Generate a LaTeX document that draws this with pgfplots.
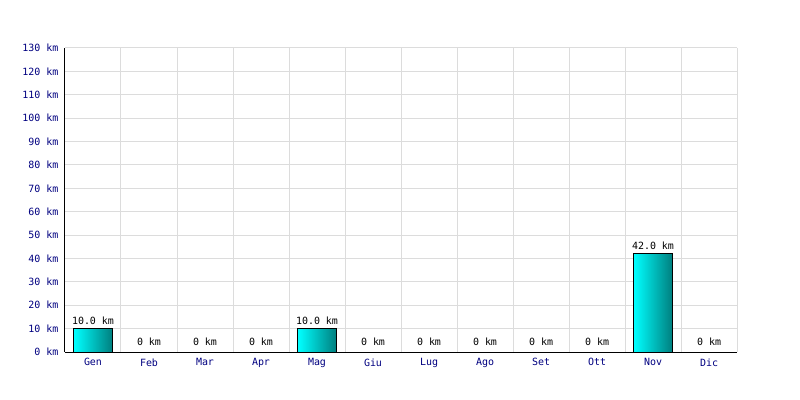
\documentclass[border=0pt]{standalone}
\usepackage{pgfplots}
\pgfplotsset{compat=1.18}
\usepackage{fontspec}
\setmainfont{DejaVu Sans Mono}
\definecolor{navyc}{RGB}{0,0,128}
\definecolor{gridc}{RGB}{220,220,220}
\definecolor{tealc}{RGB}{0,128,128}
\definecolor{cyanc}{RGB}{0,255,255}
\pgfplotstableread[col sep=comma]{
x,y,label
0,10,10.0 km
}\tabgen
\pgfplotstableread[col sep=comma]{
x,y,label
4,10,10.0 km
}\tabmag
\pgfplotstableread[col sep=comma]{
x,y,label
10,42,42.0 km
}\tabnov
\pgfplotstableread[col sep=comma]{
x,y,label
1,0,0 km
2,0,0 km
3,0,0 km
5,0,0 km
6,0,0 km
7,0,0 km
8,0,0 km
9,0,0 km
11,0,0 km
}\tabzeros
\begin{document}
\begin{tikzpicture}
\useasboundingbox (-65bp,-48bp) rectangle (735bp,352bp);
\begin{axis}[
  at={(0,0)}, anchor=south west, scale only axis,
  width=672bp, height=304bp,
  xmin=-0.5, xmax=11.5, ymin=0, ymax=130,
  axis lines*=left,
  axis line style={black, line width=1bp},
  xtick={0,...,11},
  xticklabels={Gen,Feb,Mar,Apr,Mag,Giu,Lug,Ago,Set,Ott,Nov,Dic},
  minor xtick={-0.5,0.5,1.5,2.5,3.5,4.5,5.5,6.5,7.5,8.5,9.5,10.5,11.5},
  ytick={0,10,...,130},
  yticklabels={0 km,10 km,20 km,30 km,40 km,50 km,60 km,70 km,80 km,90 km,100 km,110 km,120 km,130 km},
  xminorgrids, ymajorgrids,
  major grid style={gridc, line width=1bp},
  minor grid style={gridc, line width=1bp},
  major tick length=0pt, minor tick length=0pt,
  tick label style={font=\fontsize{10}{12}\selectfont, text=navyc},
  yticklabel style={xshift=-3bp},
  xticklabel style={yshift=-3bp},
  every node near coord/.style={font=\fontsize{10}{12}\selectfont, text=black},
  clip=false,
  barstyle/.style={ybar, bar width=0.68, bar shift=0pt, draw=black, line width=1bp,
    left color=cyanc, right color=tealc,
    nodes near coords, point meta=explicit symbolic},
]
\addplot[barstyle] table[x=x, y=y, meta=label] {\tabgen};
\addplot[barstyle] table[x=x, y=y, meta=label] {\tabmag};
\addplot[barstyle] table[x=x, y=y, meta=label] {\tabnov};
\addplot[ybar, bar width=0.68, bar shift=0pt, draw=none, fill=none,
  nodes near coords, point meta=explicit symbolic,
  every node near coord/.append style={yshift=3bp}]
  table[x=x, y=y, meta=label] {\tabzeros};
\end{axis}
\end{tikzpicture}
\end{document}
